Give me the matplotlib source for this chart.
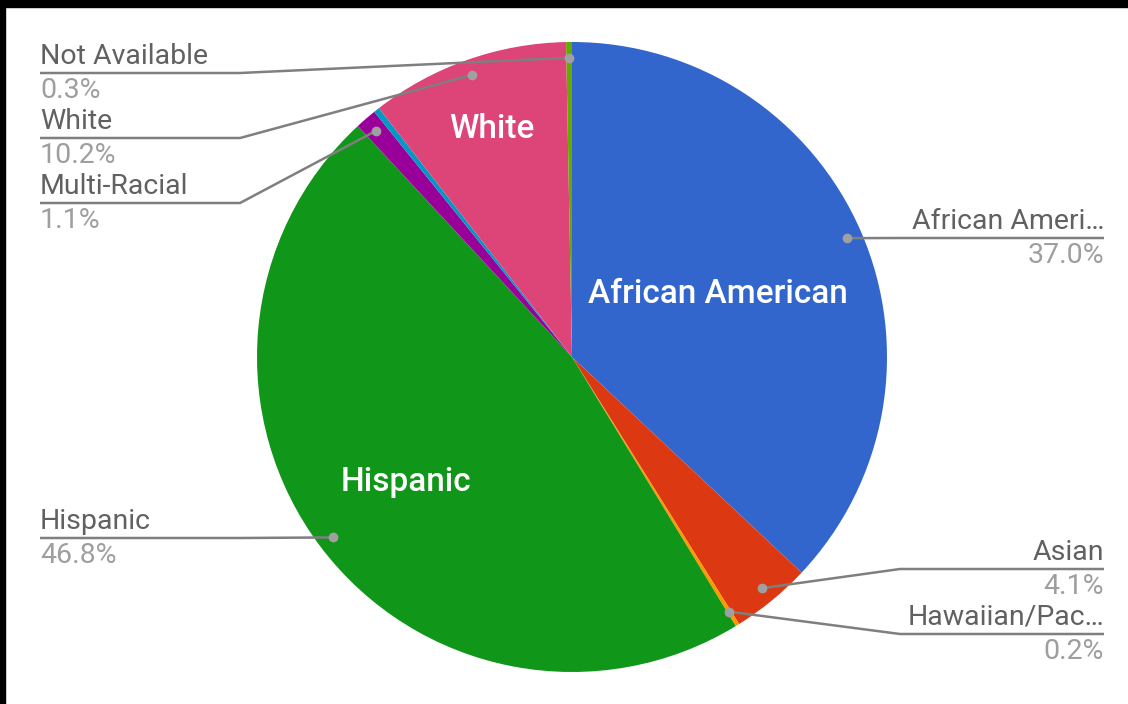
import matplotlib
matplotlib.use("Agg")
import numpy as np
import matplotlib.pyplot as plt
from matplotlib.patches import Rectangle

plt.rcParams['font.family'] = ['Roboto', 'DejaVu Sans']

# enrollment by race / ethnicity, percent
groups = ["African American", "Asian", "Hawaiian/Pacific Islander", "Hispanic",
          "Multi-Racial", "Native American", "White", "Not Available"]
shares = [37.0, 4.1, 0.2, 46.8, 1.1, 0.3, 10.2, 0.3]
colors = ["#3366cc", "#dc3912", "#ff9900", "#109618",
          "#990099", "#0099c6", "#dd4477", "#66aa00"]
callout_names = ["African Ameri\u2026", "Asian", "Hawaiian/Pac\u2026", "Hispanic",
                 "Multi-Racial", None, "White", "Not Available"]
inside_names = ["African American", None, None, "Hispanic", None, None, "White", None]

# callout layout in pixels (y measured from the top)
side = ["right", "right", "right", "left", "left", None, "left", "left"]
line_y = [238, 569, 634, 538, 203, None, 138, 73]
inside_r = [0.503, None, None, 0.66, None, None, 0.767, None]

W, H = 1128, 704
cx, cy, R = 572, H - 357, 315

fig = plt.figure(figsize=(W / 100, H / 100), dpi=100)
ax = fig.add_axes([0, 0, 1, 1])
wedges, _ = ax.pie(shares, colors=colors, startangle=90, counterclock=False,
                   center=(cx, cy), radius=R, wedgeprops=dict(linewidth=0))
ax.set_xlim(0, W)
ax.set_ylim(0, H)
ax.set_aspect('equal')
ax.axis('off')

name_col = '#616161'
pct_col = '#9e9e9e'
line_col = '#7f7f7f'

for i, w in enumerate(wedges):
    mid = np.deg2rad((w.theta1 + w.theta2) / 2)
    if inside_names[i]:
        r = inside_r[i] * R
        ax.text(cx + r * np.cos(mid), cy + r * np.sin(mid), inside_names[i],
                color='white', fontsize=24, fontweight='medium',
                ha='center', va='center')
    if callout_names[i] is None:
        continue
    dx, dy = cx + 0.95 * R * np.cos(mid), cy + 0.95 * R * np.sin(mid)
    ly = H - line_y[i]
    if side[i] == "left":
        xs, xe, ha = 40, 240, 'left'
    else:
        xs, xe, ha = 1104, 900, 'right'
    ax.plot([xs, xe, dx], [ly, ly, dy], color=line_col, lw=1.8,
            solid_capstyle='butt', zorder=3)
    ax.plot(dx, dy, 'o', color='#a0a0a0', ms=7, mec='none', zorder=4)
    ax.text(xs, ly + 9, callout_names[i], color=name_col, fontsize=20.5,
            ha=ha, va='baseline')
    ax.text(xs, ly - 25, f"{shares[i]:.1f}%", color=pct_col, fontsize=20.5,
            ha=ha, va='baseline')

# dark strips along the top and left edges
fig.patches.append(Rectangle((0, 1 - 7 / H), 1, 7 / H, transform=fig.transFigure,
                             color='black', zorder=10))
fig.patches.append(Rectangle((0, 0), 5 / W, 1, transform=fig.transFigure,
                             color='black', zorder=10))

fig.savefig('out.png', dpi=100, facecolor='white')
